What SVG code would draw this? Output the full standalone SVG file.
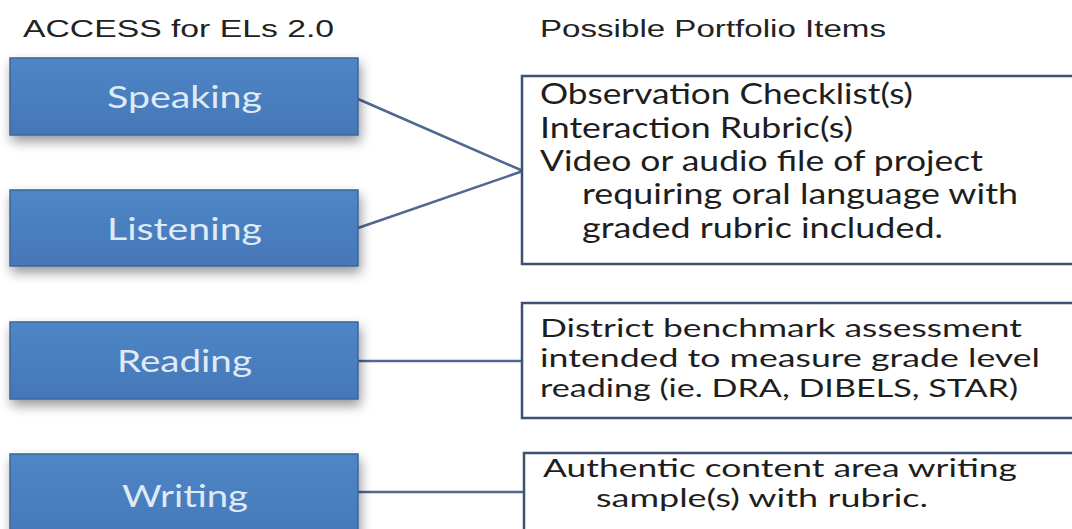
<svg xmlns="http://www.w3.org/2000/svg" width="1072" height="529" viewBox="0 0 1072 529">
<defs>
<linearGradient id="bg" x1="0" y1="0" x2="0" y2="1">
<stop offset="0" stop-color="#4f86c6"/>
<stop offset="1" stop-color="#4577b8"/>
</linearGradient>
<filter id="sh" x="-10%" y="-20%" width="125%" height="160%">
<feDropShadow dx="2" dy="6" stdDeviation="6" flood-color="#000" flood-opacity="0.4"/>
</filter>
</defs>
<style>
.hdr{font-family:"Liberation Sans",Arial,sans-serif;font-size:23px;fill:#222}
.blue{fill:url(#bg);stroke:#3a659c;stroke-width:1.5;filter:url(#sh)}
.lbl{font-family:Lato,"Open Sans",sans-serif;font-size:31px;fill:#dfeaf7}
.item{fill:#fff;stroke:#3d5170;stroke-width:2.5}
.txt{font-family:Lato,"Open Sans",sans-serif;font-size:28px;fill:#1e1e1e}
.txs{font-family:Lato,"Open Sans",sans-serif;font-size:25px;fill:#1e1e1e}
.con{stroke:#4e6991;stroke-width:2.5;fill:none}
</style>
<rect width="1072" height="529" fill="#fff"/>
<text class="hdr" x="23" y="37" textLength="311" lengthAdjust="spacingAndGlyphs">ACCESS for ELs 2.0</text>
<text class="hdr" x="540" y="37" textLength="346" lengthAdjust="spacingAndGlyphs">Possible Portfolio Items</text>

<g id="connectors">
<line class="con" x1="358" y1="99" x2="523" y2="171"/>
<line class="con" x1="358" y1="228" x2="523" y2="171"/>
<line class="con" x1="358" y1="361" x2="522" y2="361"/>
<line class="con" x1="358" y1="492" x2="524" y2="492"/>
</g>

<g id="speaking">
<rect class="blue" x="10" y="58" width="348" height="77"/>
<text class="lbl" x="107" y="108" textLength="155" lengthAdjust="spacingAndGlyphs">Speaking</text>
</g>
<g id="listening">
<rect class="blue" x="10" y="190" width="348" height="76"/>
<text class="lbl" x="107" y="240" textLength="155" lengthAdjust="spacingAndGlyphs">Listening</text>
</g>
<g id="reading">
<rect class="blue" x="10" y="322" width="348" height="77"/>
<text class="lbl" x="117" y="372" textLength="135" lengthAdjust="spacingAndGlyphs">Reading</text>
</g>
<g id="writing">
<rect class="blue" x="10" y="454" width="348" height="90"/>
<text class="lbl" x="122" y="507" textLength="126" lengthAdjust="spacingAndGlyphs">Writing</text>
</g>

<g id="items-oral">
<rect class="item" x="522" y="76" width="560" height="188"/>
<text class="txt" x="540" y="104" textLength="373" lengthAdjust="spacingAndGlyphs">Observation Checklist(s)</text>
<text class="txt" x="540" y="138" textLength="313" lengthAdjust="spacingAndGlyphs">Interaction Rubric(s)</text>
<text class="txt" x="540" y="171" textLength="443" lengthAdjust="spacingAndGlyphs">Video or audio file of project</text>
<text class="txt" x="582" y="204" textLength="436" lengthAdjust="spacingAndGlyphs">requiring oral language with</text>
<text class="txt" x="582" y="238" textLength="361" lengthAdjust="spacingAndGlyphs">graded rubric included.</text>
</g>
<g id="items-reading">
<rect class="item" x="522" y="303" width="560" height="115"/>
<text class="txs" x="540" y="337" textLength="482" lengthAdjust="spacingAndGlyphs">District benchmark assessment</text>
<text class="txs" x="540" y="367" textLength="500" lengthAdjust="spacingAndGlyphs">intended to measure grade level</text>
<text class="txs" x="540" y="397" textLength="478" lengthAdjust="spacingAndGlyphs">reading (ie. DRA, DIBELS, STAR)</text>
</g>
<g id="items-writing">
<rect class="item" x="524" y="453" width="560" height="100"/>
<text class="txs" x="543" y="477" textLength="474" lengthAdjust="spacingAndGlyphs">Authentic content area writing</text>
<text class="txs" x="596" y="507" textLength="332" lengthAdjust="spacingAndGlyphs">sample(s) with rubric.</text>
</g>
</svg>
